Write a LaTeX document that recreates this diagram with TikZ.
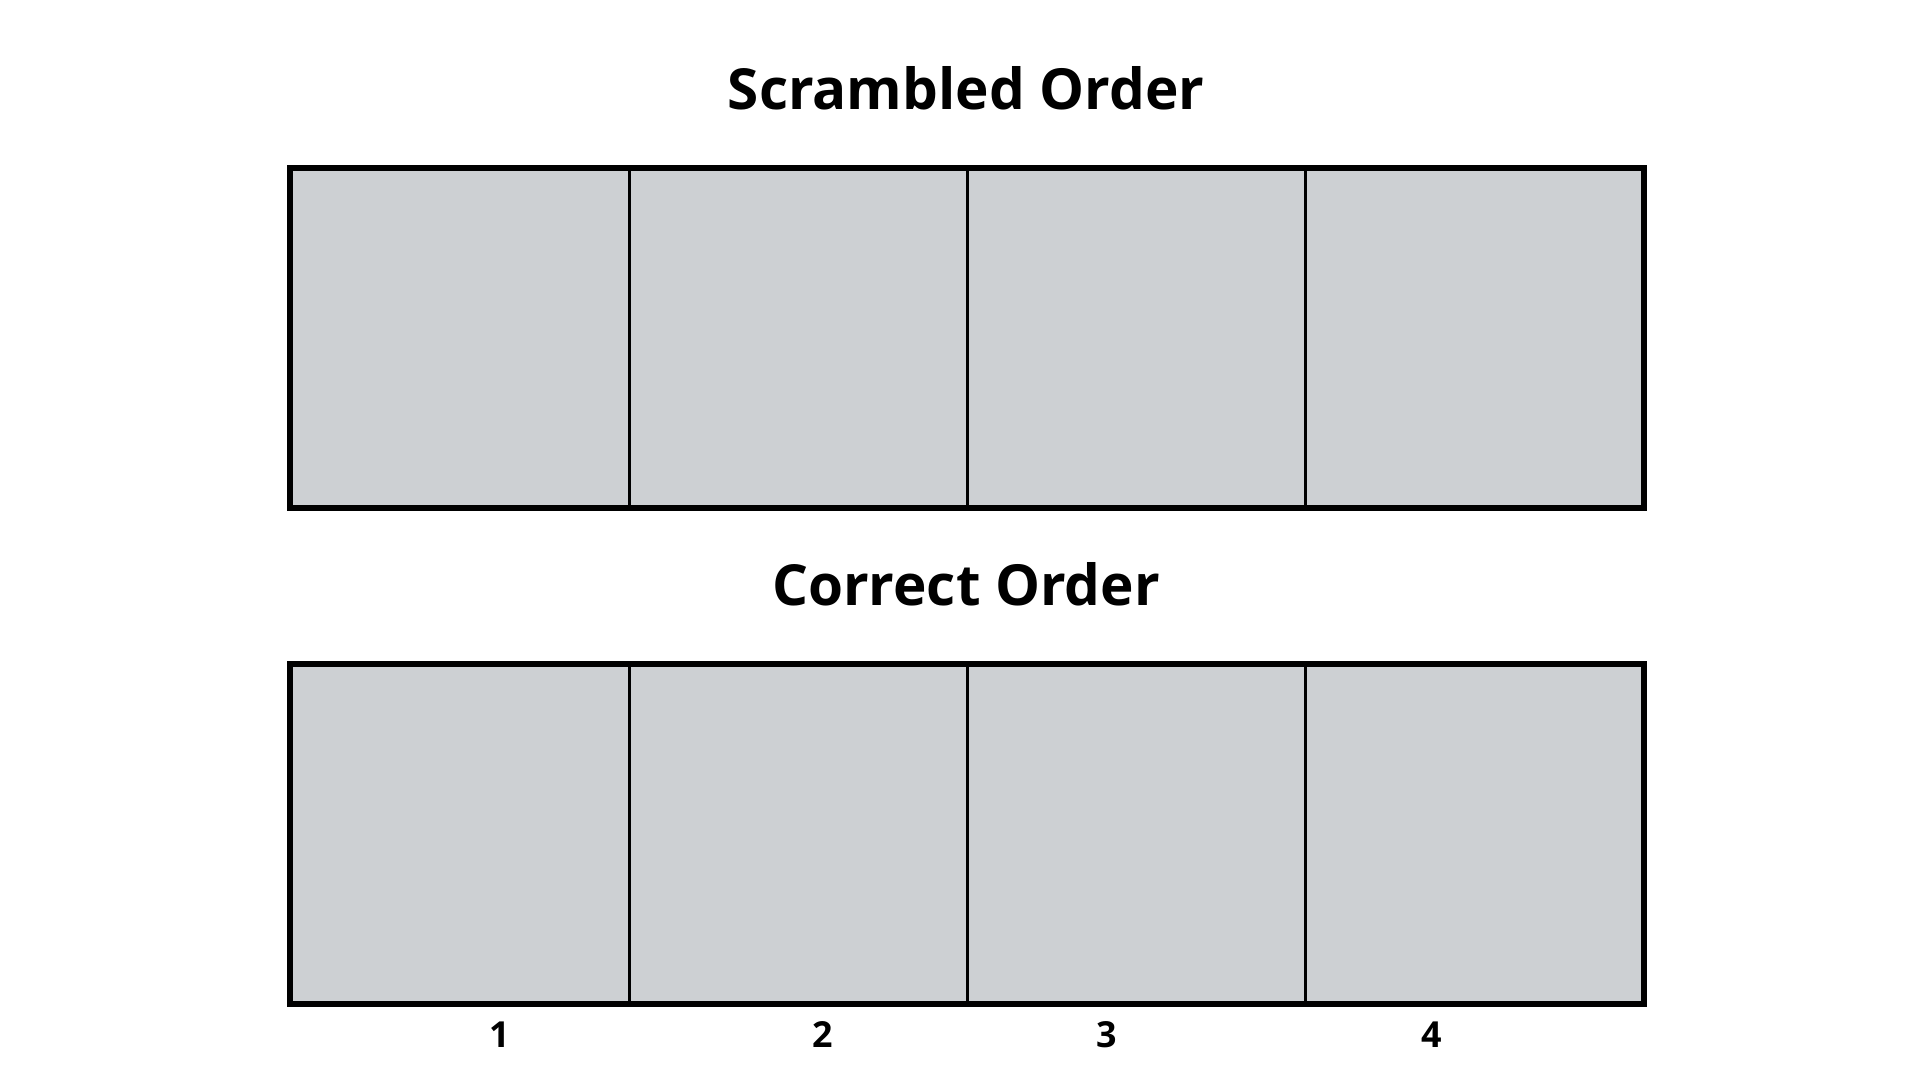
\documentclass[tikz,border=0pt]{standalone}
\usepackage{fontspec}
\setmainfont{Open Sans}
\definecolor{cellgray}{HTML}{CDD0D3}
\tikzset{
  cell/.style={draw=black, fill=cellgray, line width=0.85pt, inner sep=0pt,
    minimum width=3.38cm, minimum height=3.37cm, anchor=north west},
  frame/.style={draw=black, line width=1.7pt},
  titletext/.style={font=\bfseries\fontsize{16.1}{19}\selectfont, text=black},
  numtext/.style={font=\bfseries\fontsize{10.2}{12}\selectfont, text=black}
}
\begin{document}
\begin{tikzpicture}[x=0.01cm,y=-0.01cm]
\useasboundingbox (0,0) rectangle (1920,1080);
\fill[white] (0,0) rectangle (1920,1080);
% titles
\node[titletext] (t1) at (966,88) {Scrambled Order};
\node[titletext] (t2) at (966,584) {Correct Order};
% top row
\node[cell] (s1) at (290,168) {};
\node[cell] (s2) at (628,168) {};
\node[cell] (s3) at (966,168) {};
\node[cell, minimum width=3.37cm] (s4) at (1304,168) {};
\draw[frame] (s1.north west) rectangle (s4.south east);
% bottom row
\node[cell] (c1) at (290,664) {};
\node[cell] (c2) at (628,664) {};
\node[cell] (c3) at (966,664) {};
\node[cell, minimum width=3.37cm] (c4) at (1304,664) {};
\draw[frame] (c1.north west) rectangle (c4.south east);
% numbers
\node[numtext] (n1) at (500,1035) {1};
\node[numtext] (n2) at (823,1035) {2};
\node[numtext] (n3) at (1107,1035) {3};
\node[numtext] (n4) at (1432,1035) {4};
\end{tikzpicture}
\end{document}
